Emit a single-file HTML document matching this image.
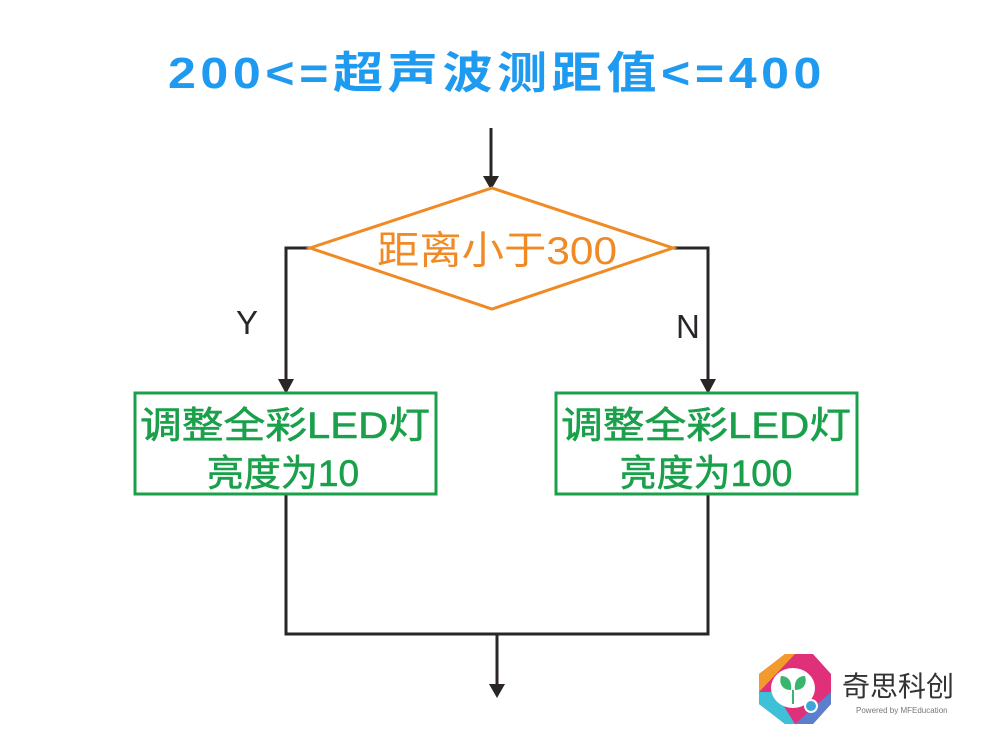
<!DOCTYPE html>
<html><head><meta charset="utf-8"><style>
html,body{margin:0;padding:0;background:#fff}
svg{display:block}
text{font-family:"Liberation Sans","Noto Sans CJK SC",sans-serif}
</style></head><body>
<svg width="1000" height="750" viewBox="0 0 1000 750" xmlns="http://www.w3.org/2000/svg">
<text x="168" y="88" font-size="44" font-weight="bold" fill="#1e9af0" textLength="658" lengthAdjust="spacingAndGlyphs" letter-spacing="4">200&lt;=超声波测距值&lt;=400</text>
<g stroke="#2b2626" stroke-width="3" fill="none">
<line x1="491" y1="128" x2="491" y2="178"/>
<polyline points="310,248 286,248 286,382"/>
<polyline points="673,248 708,248 708,382"/>
<polyline points="286,494 286,634 708,634 708,494"/>
<line x1="497" y1="634" x2="497" y2="686"/>
</g>
<g fill="#2b2626">
<polygon points="483,176 499,176 491,190"/>
<polygon points="278,379 294,379 286,394"/>
<polygon points="700,379 716,379 708,394"/>
<polygon points="489,684 505,684 497,698"/>
</g>
<polygon points="492,188 673,248 492,309 310,248" fill="#fff" stroke="#f08a24" stroke-width="3"/>
<text x="497" y="264" font-size="39" fill="#f08a24" text-anchor="middle" textLength="240" lengthAdjust="spacingAndGlyphs">距离小于300</text>
<text x="236" y="334" font-size="33" fill="#2b2626">Y</text>
<text x="676" y="338" font-size="33" fill="#2b2626">N</text>
<rect x="135" y="393" width="301" height="101" fill="#fff" stroke="#1aa04a" stroke-width="3"/>
<rect x="556" y="393" width="301" height="101" fill="#fff" stroke="#1aa04a" stroke-width="3"/>
<g font-size="37" fill="#1aa04a" text-anchor="middle" stroke="#1aa04a" stroke-width="0.6">
<text x="285" y="438" textLength="290" lengthAdjust="spacingAndGlyphs">调整全彩LED灯</text>
<text x="283" y="486">亮度为10</text>
<text x="706" y="438" textLength="290" lengthAdjust="spacingAndGlyphs">调整全彩LED灯</text>
<text x="706" y="486">亮度为100</text>
</g>
<g transform="translate(795,692)">
<polygon points="-10,-38 18,-38 36,-18 36,12 18,32 -10,32 -36,12 -36,-18" fill="#e0307a"/>
<polygon points="-36,-18 -10,-38 0,-38 -36,0" fill="#f39a2c"/>
<polygon points="-36,0 -36,12 -10,32 0,32 -20,0" fill="#3ec0d8"/>
<polygon points="36,0 36,12 18,32 0,32" fill="#5b7fcc"/>
<ellipse cx="-2" cy="-4" rx="22" ry="20" fill="#fff"/>
<path d="M-4,-2 C-14,-2 -16,-10 -14,-16 C-6,-16 -3,-10 -4,-2Z" fill="#3ab56c"/>
<path d="M0,-2 C10,-2 12,-10 10,-16 C2,-16 -1,-10 0,-2Z" fill="#3ab56c"/>
<line x1="-2" y1="-2" x2="-2" y2="12" stroke="#3ab56c" stroke-width="2"/>
<circle cx="16" cy="14" r="7" fill="#fff"/>
<circle cx="16" cy="14" r="5" fill="#3ea6d8"/>
</g>
<text x="842" y="696" font-size="28" fill="#333">奇思科创</text>
<text x="856" y="713" font-size="8" fill="#777">Powered by MFEducation</text>
</svg>
</body></html>
